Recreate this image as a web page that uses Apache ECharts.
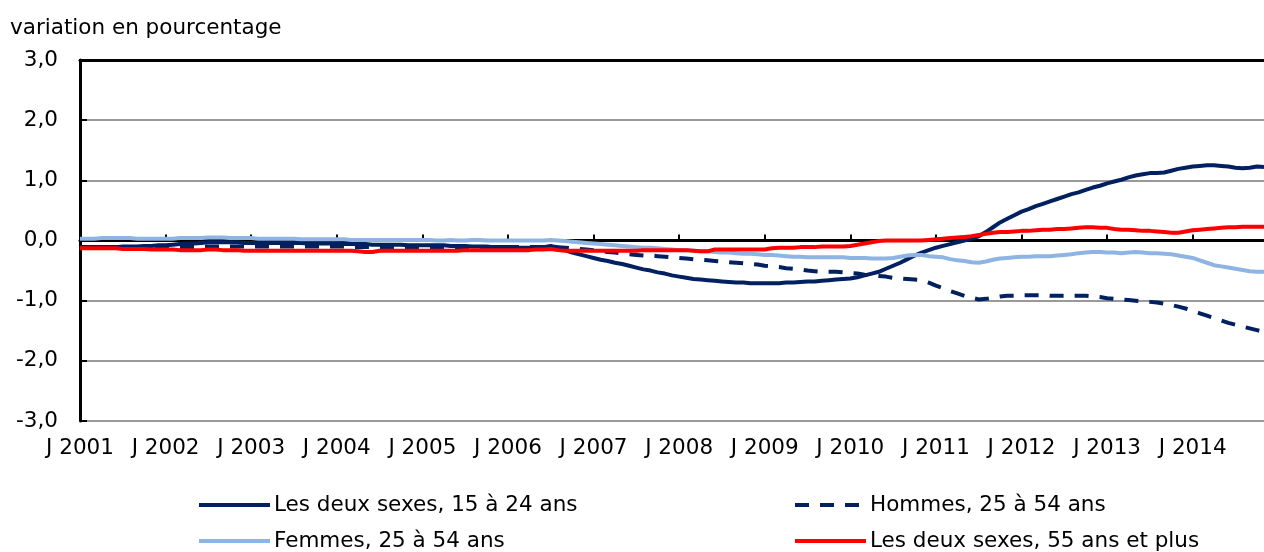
<!DOCTYPE html>
<html>
<head>
<meta charset="utf-8">
<script src="https://cdn.jsdelivr.net/npm/echarts@6/dist/echarts.min.js"></script>
<style>
  html, body { margin: 0; padding: 0; background: #fff; }
  #chart { width: 1264px; height: 552px; }
</style>
</head>
<body>
<div id="chart"></div>
<script>
// years shown on the x axis (one tick every January)
var years = ['2001','2002','2003','2004','2005','2006','2007','2008','2009','2010','2011','2012','2013','2014'];
var lastMonth = 11; // data stop in November 2014

var names = ['Les deux sexes, 15 à 24 ans', 'Hommes, 25 à 54 ans', 'Femmes, 25 à 54 ans', 'Les deux sexes, 55 ans et plus'];

// monthly values, one row per year
var youth = [
  -0.11,-0.11,-0.11,-0.11,-0.11,-0.11,-0.10,-0.10,-0.10,-0.09,-0.09,-0.08,
  -0.08,-0.07,-0.06,-0.05,-0.05,-0.04,-0.03,-0.03,-0.03,-0.03,-0.03,-0.04,
  -0.04,-0.04,-0.04,-0.04,-0.04,-0.04,-0.04,-0.04,-0.05,-0.05,-0.05,-0.05,
  -0.05,-0.06,-0.06,-0.06,-0.06,-0.07,-0.07,-0.07,-0.07,-0.07,-0.08,-0.08,
  -0.08,-0.08,-0.08,-0.08,-0.09,-0.09,-0.09,-0.10,-0.10,-0.10,-0.11,-0.11,
  -0.11,-0.12,-0.12,-0.12,-0.12,-0.11,-0.09,-0.12,-0.16,-0.20,-0.23,-0.26,
  -0.29,-0.32,-0.34,-0.37,-0.39,-0.42,-0.45,-0.48,-0.50,-0.53,-0.55,-0.58,
  -0.60,-0.62,-0.64,-0.65,-0.66,-0.67,-0.68,-0.69,-0.70,-0.70,-0.71,-0.71,
  -0.71,-0.71,-0.71,-0.70,-0.70,-0.69,-0.68,-0.68,-0.67,-0.66,-0.65,-0.64,
  -0.63,-0.61,-0.58,-0.55,-0.52,-0.47,-0.42,-0.37,-0.31,-0.25,-0.20,-0.16,
  -0.12,-0.09,-0.06,-0.03,0.00,0.03,0.07,0.14,0.22,0.30,0.36,0.42,
  0.48,0.52,0.57,0.61,0.65,0.69,0.73,0.77,0.80,0.84,0.88,0.91,
  0.95,0.98,1.01,1.05,1.08,1.10,1.12,1.12,1.13,1.16,1.19,1.21,
  1.23,1.24,1.25,1.25,1.24,1.23,1.21,1.20,1.21,1.23,1.22
];
var men = [
  -0.11,-0.11,-0.11,-0.11,-0.11,-0.11,-0.11,-0.11,-0.11,-0.11,-0.11,-0.11,
  -0.11,-0.11,-0.11,-0.11,-0.11,-0.10,-0.10,-0.10,-0.10,-0.10,-0.10,-0.10,
  -0.10,-0.10,-0.10,-0.10,-0.10,-0.10,-0.10,-0.10,-0.10,-0.10,-0.10,-0.10,
  -0.10,-0.10,-0.11,-0.11,-0.11,-0.11,-0.11,-0.11,-0.11,-0.11,-0.11,-0.11,
  -0.11,-0.11,-0.11,-0.11,-0.11,-0.11,-0.11,-0.11,-0.11,-0.11,-0.11,-0.11,
  -0.11,-0.11,-0.11,-0.11,-0.11,-0.11,-0.10,-0.11,-0.12,-0.13,-0.14,-0.15,
  -0.16,-0.17,-0.19,-0.20,-0.22,-0.23,-0.24,-0.25,-0.25,-0.26,-0.27,-0.28,
  -0.29,-0.30,-0.31,-0.32,-0.33,-0.34,-0.35,-0.36,-0.37,-0.38,-0.39,-0.40,
  -0.42,-0.43,-0.44,-0.46,-0.47,-0.48,-0.50,-0.51,-0.52,-0.52,-0.52,-0.53,
  -0.54,-0.55,-0.57,-0.58,-0.59,-0.60,-0.62,-0.63,-0.64,-0.65,-0.66,-0.70,
  -0.75,-0.79,-0.84,-0.88,-0.92,-0.95,-0.98,-0.97,-0.95,-0.93,-0.92,-0.92,
  -0.91,-0.91,-0.91,-0.91,-0.92,-0.92,-0.92,-0.92,-0.92,-0.92,-0.93,-0.94,
  -0.96,-0.97,-0.98,-0.99,-1.00,-1.01,-1.02,-1.03,-1.05,-1.07,-1.10,-1.13,
  -1.17,-1.21,-1.25,-1.29,-1.33,-1.37,-1.40,-1.43,-1.46,-1.49,-1.52
];
var women = [
  0.03,0.03,0.03,0.04,0.04,0.04,0.04,0.04,0.03,0.03,0.03,0.03,
  0.03,0.03,0.04,0.04,0.04,0.04,0.05,0.05,0.05,0.04,0.04,0.04,
  0.04,0.03,0.03,0.03,0.03,0.03,0.03,0.02,0.02,0.02,0.02,0.02,
  0.02,0.02,0.01,0.01,0.01,0.01,0.01,0.01,0.01,0.01,0.01,0.01,
  0.01,0.01,0.00,0.00,0.01,0.00,0.00,0.01,0.01,0.00,0.00,0.00,
  0.00,0.00,0.00,0.00,0.00,0.00,0.01,0.00,-0.01,-0.02,-0.03,-0.04,
  -0.05,-0.06,-0.07,-0.08,-0.09,-0.10,-0.11,-0.12,-0.12,-0.13,-0.14,-0.15,
  -0.16,-0.16,-0.17,-0.18,-0.18,-0.19,-0.20,-0.20,-0.21,-0.22,-0.22,-0.23,
  -0.24,-0.24,-0.25,-0.26,-0.27,-0.27,-0.28,-0.28,-0.28,-0.28,-0.28,-0.28,
  -0.29,-0.29,-0.29,-0.30,-0.30,-0.30,-0.29,-0.27,-0.25,-0.24,-0.24,-0.26,
  -0.27,-0.28,-0.31,-0.33,-0.34,-0.36,-0.37,-0.35,-0.32,-0.30,-0.29,-0.28,
  -0.27,-0.27,-0.26,-0.26,-0.26,-0.25,-0.24,-0.23,-0.21,-0.20,-0.19,-0.19,
  -0.20,-0.20,-0.21,-0.20,-0.19,-0.20,-0.21,-0.21,-0.22,-0.23,-0.25,-0.27,
  -0.29,-0.33,-0.37,-0.41,-0.43,-0.45,-0.47,-0.49,-0.51,-0.52,-0.52
];
var older = [
  -0.13,-0.13,-0.13,-0.13,-0.13,-0.13,-0.14,-0.14,-0.14,-0.14,-0.15,-0.15,
  -0.15,-0.15,-0.16,-0.16,-0.16,-0.16,-0.15,-0.15,-0.16,-0.16,-0.16,-0.17,
  -0.17,-0.17,-0.17,-0.17,-0.17,-0.17,-0.17,-0.17,-0.17,-0.17,-0.17,-0.17,
  -0.17,-0.17,-0.17,-0.18,-0.19,-0.19,-0.17,-0.17,-0.17,-0.17,-0.17,-0.17,
  -0.17,-0.17,-0.17,-0.17,-0.17,-0.17,-0.16,-0.16,-0.16,-0.16,-0.16,-0.16,
  -0.16,-0.16,-0.16,-0.16,-0.15,-0.15,-0.14,-0.16,-0.17,-0.17,-0.17,-0.17,
  -0.17,-0.17,-0.17,-0.17,-0.17,-0.17,-0.17,-0.16,-0.16,-0.16,-0.16,-0.16,
  -0.16,-0.16,-0.17,-0.18,-0.18,-0.15,-0.15,-0.15,-0.15,-0.15,-0.15,-0.15,
  -0.15,-0.13,-0.12,-0.12,-0.12,-0.11,-0.11,-0.11,-0.10,-0.10,-0.10,-0.10,
  -0.09,-0.07,-0.05,-0.03,-0.01,0.00,0.00,0.00,0.00,0.00,0.00,0.01,
  0.02,0.03,0.04,0.05,0.06,0.07,0.09,0.11,0.13,0.14,0.14,0.15,
  0.16,0.16,0.17,0.18,0.18,0.19,0.19,0.20,0.21,0.22,0.22,0.21,
  0.21,0.19,0.18,0.18,0.17,0.16,0.16,0.15,0.14,0.13,0.13,0.15,
  0.17,0.18,0.19,0.20,0.21,0.22,0.22,0.23,0.23,0.23,0.23
];

var navy = '#002060', lightBlue = '#8db4e2', red = '#ff0000';
var font = '"DejaVu Sans", Verdana, sans-serif';
var fontSize = 21.5;

// month categories, label only on January
var months = [];
for (var y = 0; y < years.length; y++) {
    var stop = (y === years.length - 1) ? lastMonth : 12;
    for (var m = 0; m < stop; m++) {
        months.push(years[y] + '-' + (m + 1));
    }
}

var chart = echarts.init(document.getElementById('chart'), null, {renderer: 'canvas'});

function lineSeries(name, data, color, type) {
    return {
        name: name,
        type: 'line',
        data: data,
        symbol: 'none',
        smooth: false,
        lineStyle: {color: color, width: 4, type: type || 'solid'},
        itemStyle: {color: color}
    };
}

// one legend per entry so the 2x2 layout is fixed
function legendItem(name, left, top) {
    return {
        left: left,
        top: top,
        padding: 0,
        itemWidth: 71,
        itemHeight: 14,
        itemGap: 0,
        selectedMode: false,
        textStyle: {fontFamily: font, fontSize: fontSize, color: '#000', padding: [0, 0, 0, -1]},
        itemStyle: {opacity: 0},
        lineStyle: {width: 4},
        data: [name]
    };
}

var option = {
    animation: false,
    backgroundColor: '#fff',
    title: {
        text: 'variation en pourcentage',
        left: 5,
        top: 12,
        textStyle: {fontFamily: font, fontSize: fontSize, fontWeight: 'normal', color: '#000'}
    },
    legend: [
        legendItem(names[0], 197, 494),
        legendItem(names[1], 793, 494),
        legendItem(names[2], 197, 530),
        legendItem(names[3], 793, 530)
    ],
    grid: {left: 80, right: 0, top: 60, bottom: 131, containLabel: false},
    xAxis: [{
        type: 'category',
        data: months,
        boundaryGap: false,
        axisLine: {lineStyle: {color: '#000', width: 3}},
        axisTick: {inside: true, length: 6, interval: 11, lineStyle: {color: '#000', width: 2}},
        axisLabel: {
            interval: 11,
            margin: 16,
            fontFamily: font,
            fontSize: fontSize,
            color: '#000',
            formatter: function (v) { return 'J ' + v.split('-')[0]; }
        },
        splitLine: {show: false}
    }, {
        type: 'category',
        data: months,
        boundaryGap: false,
        position: 'top',
        axisLine: {lineStyle: {color: '#000', width: 3}},
        axisTick: {show: false},
        axisLabel: {show: false},
        splitLine: {show: false}
    }],
    yAxis: {
        type: 'value',
        min: -3,
        max: 3,
        interval: 1,
        axisLine: {show: true, lineStyle: {color: '#000', width: 3}},
        axisTick: {show: true, inside: true, length: 7, lineStyle: {color: '#000', width: 2}},
        axisLabel: {
            margin: 22,
            fontFamily: font,
            fontSize: fontSize,
            color: '#000',
            formatter: function (v) { return v.toFixed(1).replace('.', ','); }
        },
        splitLine: {lineStyle: {color: '#999', width: 2}}
    },
    series: [
        lineSeries(names[0], youth, navy),
        lineSeries(names[1], men, navy, [14, 11]),
        lineSeries(names[2], women, lightBlue),
        lineSeries(names[3], older, red)
    ]
};

chart.setOption(option);
window.addEventListener('resize', function () {
    chart.resize();
});
</script>
</body>
</html>
